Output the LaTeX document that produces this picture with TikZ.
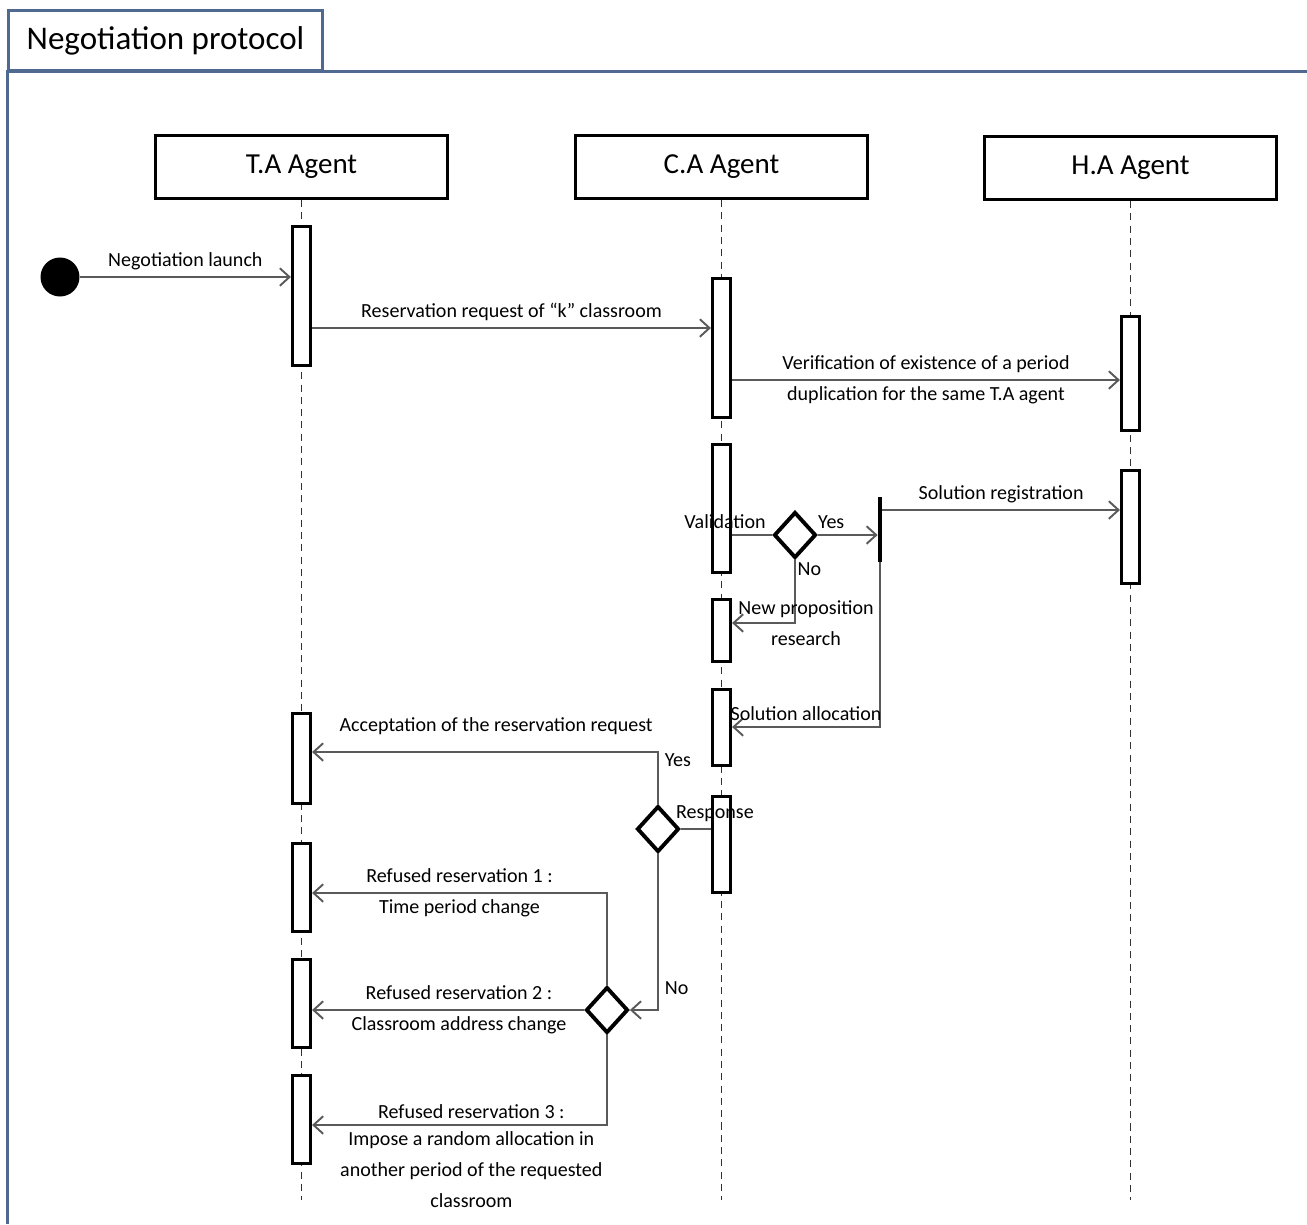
\documentclass[tikz,border=0pt]{standalone}
\usepackage{fontspec}
\setmainfont{Carlito}
\usetikzlibrary{arrows.meta,positioning,shapes.geometric,calc}
\definecolor{frameblue}{RGB}{79,105,145}
\definecolor{msggray}{RGB}{90,90,90}
\begin{document}
\begin{tikzpicture}[x=0.02cm,y=-0.02cm,
    every node/.style={font=\fontsize{11.4}{17.6}\selectfont},
    agent/.style={draw,line width=1.8pt,minimum width=5.84cm,minimum height=1.26cm,font=\fontsize{16.5}{20}\selectfont},
    actbar/.style={draw,fill=white,line width=1.8pt,minimum width=0.36cm,inner sep=0pt},
    decide/.style={draw,diamond,fill=white,line width=2.2pt,minimum width=0.84cm,minimum height=0.92cm,inner sep=0pt},
    lifeline/.style={dash pattern=on 4pt off 3pt,line width=0.8pt,black!80},
    msg/.style={draw=msggray,line width=1.1pt,-{Straight Barb[length=5.5pt,width=10pt]}},
    link/.style={draw=msggray,line width=1.1pt},
    lbl/.style={align=center}]
      \useasboundingbox (0,0) rectangle (1307,1224);
      \node[draw=frameblue,line width=1.6pt,minimum width=6.28cm,minimum height=1.2cm,font=\fontsize{18.8}{22}\selectfont]
            (title) at (165.5,40.5) {Negotiation protocol};
      \draw[frameblue,line width=1.8pt] (title.south west |- 0,1224) -- (title.south west) -- (title.south west -| 1307,0);
      \node[agent] (ta) at (301.5,167) {T.A Agent};
      \node[agent] (ca) at (721.5,167) {C.A Agent};
      \node[agent] (ha) at (1130.5,168) {H.A Agent};
      \coordinate (taend) at (ta |- 0,1200);
      \coordinate (caend) at (ca |- 0,1200);
      \coordinate (haend) at (ha |- 0,1200);
      \draw[lifeline] (ta.south) -- (taend);
      \draw[lifeline] (ca.south) -- (caend);
      \draw[lifeline] (ha.south) -- (haend);
      \node[actbar,minimum height=2.78cm] (ta1) at (ta |- 0,296) {};
      \node[actbar,minimum height=1.80cm] (ta2) at (ta |- 0,758.5) {};
      \node[actbar,minimum height=1.76cm] (ta3) at (ta |- 0,887.5) {};
      \node[actbar,minimum height=1.76cm] (ta4) at (ta |- 0,1003.5) {};
      \node[actbar,minimum height=1.76cm] (ta5) at (ta |- 0,1119.5) {};
      \node[actbar,minimum height=2.78cm] (ca1) at (ca |- 0,348) {};
      \node[actbar,minimum height=2.56cm] (ca2) at (ca |- 0,508.5) {};
      \node[actbar,minimum height=1.24cm] (ca3) at (ca |- 0,630.5) {};
      \node[actbar,minimum height=1.52cm] (ca4) at (ca |- 0,727.5) {};
      \node[actbar,minimum height=1.92cm] (ca5) at (ca |- 0,844.5) {};
      \node[actbar,minimum height=2.28cm] (ha1) at (ha |- 0,373.5) {};
      \node[actbar,minimum height=2.26cm] (ha2) at (ha |- 0,527) {};
      \node[circle,fill=black,minimum size=0.78cm,inner sep=0pt] (start) at (60,277) {};
      \node[fill=black,minimum width=0.08cm,minimum height=1.3cm,inner sep=0pt] (syncbar) at (880,529.5) {};
      \node[decide] (dia1) at (795,535) {};
      \node[decide] (dia2) at (658,829) {};
      \node[decide] (dia3) at (607,1010) {};
      \draw[msg] (start) -- (ta1.west |- start) node[midway,above] {Negotiation launch};
      \draw[msg] (ta1.east |- 0,328) -- (ca1.west |- 0,328) node[midway,above] {Reservation request of “k” classroom};
      \draw[msg] (ca1.east |- 0,380) -- (ha1.west |- 0,380)
            node[midway,lbl] {Verification of existence of a period\\duplication for the same T.A agent};
      \draw[link] (ca2.east |- dia1) -- (dia1.west) node[pos=0,above,xshift=-0.14cm] {Validation};
      \draw[msg] (dia1.east) -- (syncbar.west |- dia1) node[pos=0,above right,inner sep=3pt,xshift=-0.12cm] {Yes};
      \draw[msg] (dia1.south) |- (ca3.east |- 0,623) node[pos=0,below right,inner sep=1pt] {No}
            node[pos=0.5,lbl,xshift=0.22cm] {New proposition\\research};
      \draw[msg] (syncbar.east |- 0,510) -- (ha2.west |- 0,510) node[midway,above] {Solution registration};
      \draw[msg] (syncbar.south) |- (ca4.east |- 0,727) node[pos=0.75,above] {Solution allocation};
      \draw[link] (ca5.west |- dia2) -- (dia2.east) node[pos=0,above,xshift=0.08cm] {Response};
      \draw[msg] (dia2.north) |- (ta2.east |- 0,752) node[pos=0.42,right] {Yes}
            node[pos=0.734,above,yshift=0.2cm] {Acceptation of the reservation request};
      \draw[msg] (dia2.south) |- (dia3.east) node[pos=0.43,right] {No};
      \draw[msg] (dia3.north) |- (ta3.east |- 0,893) node[pos=0.75,lbl] {Refused reservation 1 :\\Time period change};
      \draw[msg] (dia3.west) -- (ta4.east |- dia3) node[pos=0.46,lbl] {Refused reservation 2 :\\Classroom address change};
      \draw[msg] (dia3.south) |- (ta5.east |- 0,1125) node[pos=0.73,above] {Refused reservation 3 :}
            node[pos=0.73,below,lbl] {Impose a random allocation in\\another period of the requested\\classroom};
    \end{tikzpicture}
\end{document}
